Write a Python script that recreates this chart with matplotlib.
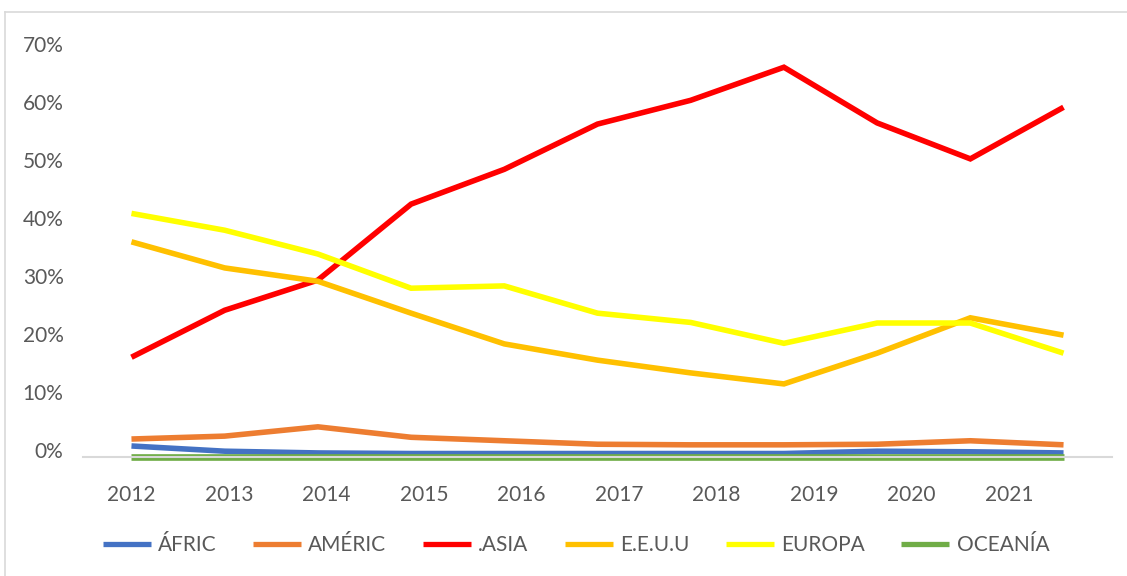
import matplotlib
matplotlib.use('Agg')
import matplotlib.pyplot as plt
import matplotlib.transforms as mtransforms
from matplotlib.lines import Line2D

# data (share of total, 0-1)
years = ['2012', '2013', '2014', '2015', '2016', '2017', '2018', '2019', '2020', '2021']
africa = [0.019, 0.010, 0.007, 0.006, 0.006, 0.006, 0.006, 0.006, 0.010, 0.009, 0.007]
america = [0.031, 0.036, 0.052, 0.034, 0.028, 0.022, 0.021, 0.021, 0.022, 0.028, 0.021]
asia = [0.172, 0.253, 0.305, 0.436, 0.496, 0.574, 0.615, 0.672, 0.576, 0.514, 0.603]
eeuu = [0.371, 0.326, 0.303, 0.248, 0.195, 0.167, 0.145, 0.126, 0.179, 0.240, 0.210]
europa = [0.420, 0.391, 0.350, 0.291, 0.295, 0.248, 0.232, 0.196, 0.231, 0.231, 0.179]
oceania = [0.0, 0.0, 0.0, 0.0, 0.0, 0.0, 0.0, 0.0, 0.0, 0.0, 0.0]

series = [
    ('ÁFRIC', africa, '#4472C4'),
    ('AMÉRIC', america, '#ED7D31'),
    ('.ASIA', asia, '#FF0000'),
    ('E.E.U.U', eeuu, '#FFC000'),
    ('EUROPA', europa, '#FFFF00'),
    ('OCEANÍA', oceania, '#70AD47'),
]

text_color = '#595959'
plt.rcParams['font.family'] = ['Lato', 'DejaVu Sans']
plt.rcParams['font.size'] = 15

fig = plt.figure(figsize=(11.27, 5.76), dpi=100)
ax = fig.add_axes([83 / 1127, 119 / 576, 1029 / 1127, 406 / 576])

x = list(range(len(asia)))
for name, vals, color in series:
    lw = 4.8 if name == 'OCEANÍA' else 4.0
    ax.plot(x, vals, color=color, linewidth=lw, clip_on=False,
            solid_capstyle='butt', solid_joinstyle='miter')

ax.set_xlim(-0.52, 10.52)
ax.set_ylim(0, 0.7)

# category labels are spaced a bit wider than the data points in the original
ax.set_xticks([i * 1.046 for i in range(len(years))])
ax.set_xticklabels(years, color=text_color)
ax.set_yticks([i / 10 for i in range(8)])
ax.set_yticklabels([f'{i * 10}%' for i in range(8)], color=text_color)
ax.tick_params(axis='x', length=0, pad=20)
ax.tick_params(axis='y', length=0, pad=14)
shift = mtransforms.ScaledTranslation(0, 7 / 100, fig.dpi_scale_trans)
for lab in ax.get_yticklabels():
    lab.set_transform(lab.get_transform() + shift)

for side in ['top', 'right', 'left']:
    ax.spines[side].set_visible(False)
ax.spines['bottom'].set_color('#D9D9D9')
ax.spines['bottom'].set_linewidth(1.5)

handles = [Line2D([], [], color=c, linewidth=3.8, solid_capstyle='butt') for _, _, c in series]
leg = fig.legend(handles, [s[0] for s in series], loc='center', ncol=6,
                 bbox_to_anchor=(576 / 1127, 1 - 545 / 576), frameon=False,
                 handlelength=2.3, handletextpad=0.35, columnspacing=1.75)
for t in leg.get_texts():
    t.set_color(text_color)

# chart border (top and left edges visible)
fig.add_artist(Line2D([5 / 1127, 5 / 1127], [0, 1 - 12 / 576], color='#D9D9D9', linewidth=1.2))
fig.add_artist(Line2D([5 / 1127, 1], [1 - 12 / 576, 1 - 12 / 576], color='#D9D9D9', linewidth=1.2))

fig.savefig('out.png', dpi=100)
